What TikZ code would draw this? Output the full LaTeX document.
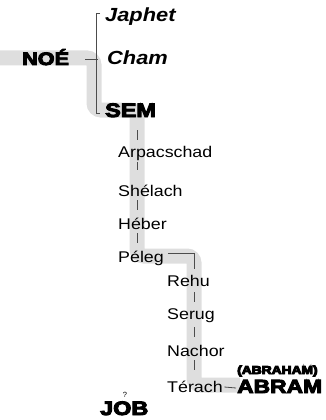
\documentclass[tikz,border=0pt]{standalone}
\usepackage{fontspec}
\usepackage{graphicx}
\setmainfont{Liberation Sans}
\newcommand\wide[1]{\scalebox{1.15}[1]{#1}}
\newcommand\heavytxt[1]{\scalebox{1.2}[1]{\special{pdf:literal direct 2 Tr 0.9 w}\bfseries #1\special{pdf:literal direct 0 Tr}}}
\tikzset{
    NM/.style ={anchor=base west,inner sep=0pt,font=\fontsize{15.5}{18}\selectfont},
    BI/.style ={anchor=base west,inner sep=0pt,font=\fontsize{19}{22}\selectfont\bfseries\itshape},
    HV/.style ={anchor=base west,inner sep=0pt,font=\fontsize{#1}{24}\selectfont},
    LK/.style ={draw=black!70,line width=0.8pt},
    BD/.style ={draw=black!13,line width=15pt,rounded corners=7pt}
}
\begin{document}
\begin{tikzpicture}[x=1pt,y=-1pt]
    \useasboundingbox (0,0) rectangle (326,420);
    \coordinate (s1) at (137,0);
    \coordinate (s2) at (194,0);
    \draw[BD] (0,58) -- (94,58) -- (94,110) -- (137,110) -- (137,256)
        -- (194,256) -- (194,385) -- (240,385);
    \node[HV=18](noe) at (22,65) {\heavytxt{NOÉ}};
    \node[BI](japhet) at (105,21.5) {\wide{Japhet}};
    \node[BI](cham) at (107,65) {\wide{Cham}};
    \node[HV=19.5](sem) at (105,117) {\heavytxt{SEM}};
    \node[NM](arp) at (118,157) {\wide{Arpacschad}};
    \node[NM](she) at (118,196) {\wide{Shélach}};
    \node[NM](heb) at (118,229) {\wide{Héber}};
    \node[NM](pel) at (118,262) {\wide{Péleg}};
    \node[NM](reh) at (167,286) {\wide{Rehu}};
    \node[NM](ser) at (167,319) {\wide{Serug}};
    \node[NM](nac) at (167,356) {\wide{Nachor}};
    \node[NM](ter) at (167,392) {\wide{Térach}};
    \node[HV=19](abram) at (237,393) {\heavytxt{ABRAM}};
    \node[HV=11.5](abraham) at (237,374) {\heavytxt{(ABRAHAM)}};
    \node[NM,anchor=base,font=\fontsize{7.5}{9}\selectfont](q) at (125,397) {?};
    \node[HV=19.5](job) at (100,415) {\heavytxt{JOB}};
    \draw[LK] (noe.base east) ++(16,-6) -- ++(13,0);
    \draw[LK] (japhet.base west) ++(-5,-8.5) -- ++(-4,0)
        |- ([xshift=-5pt,yshift=4pt]sem.base west);
    \draw[LK] (sem.base -| s1) ++(0,13) -- ++(0,10);
    \draw[LK] (arp.base -| s1) ++(0,5) -- ++(0,8);
    \draw[LK] (she.base -| s1) ++(0,4) -- ++(0,10);
    \draw[LK] (heb.base -| s1) ++(0,4) -- ++(0,10);
    \draw[LK,shorten >=6pt] (pel.base east) ++(4,-9) -| (reh.north -| s2);
    \draw[LK] (reh.base -| s2) ++(0,6) -- ++(0,10);
    \draw[LK] (ser.base -| s2) ++(0,8) -- ++(0,10);
    \draw[LK] (nac.base -| s2) ++(0,4) -- ++(0,10);
    \draw[LK] (ter.base east) ++(1.5,-5) -- ([xshift=-1pt,yshift=5pt]abram.base west);
\end{tikzpicture}
\end{document}
